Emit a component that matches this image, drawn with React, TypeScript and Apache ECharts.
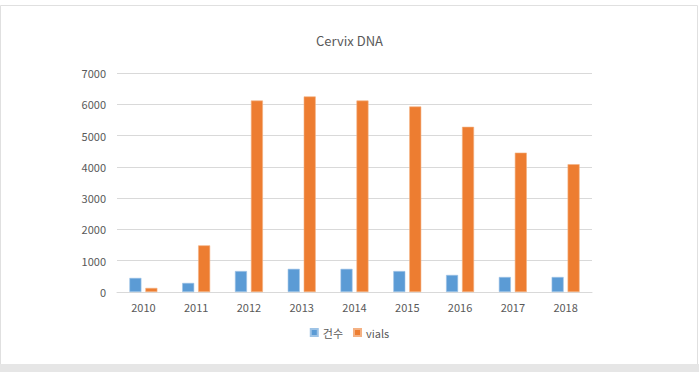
import React, { useEffect, useRef } from "react";
import * as echarts from "echarts";

const years = ["2010", "2011", "2012", "2013", "2014", "2015", "2016", "2017", "2018"];
const countValues = [450, 290, 670, 740, 740, 670, 545, 480, 480];
const vialValues = [130, 1490, 6120, 6250, 6120, 5930, 5280, 4455, 4085];
const seriesNames = ["건수", "vials"];
const titleText = "Cervix DNA";

const FONT = "'Noto Sans CJK KR', 'Noto Sans', sans-serif";

export default function App() {
  const ref = useRef<HTMLDivElement>(null);
  useEffect(() => {
    document.body.style.margin = "0";
    const chart = echarts.init(ref.current!, null, { renderer: "svg" });
    chart.setOption({
      animation: false,
      backgroundColor: "#ffffff",
      title: {
        text: titleText,
        left: "center",
        top: 29,
        textStyle: { fontFamily: FONT, fontSize: 13, fontWeight: "normal", color: "#595959" },
      },
      graphic: [
        {
          type: "rect",
          shape: { x: 0.5, y: 5.5, width: 697, height: 360 },
          style: { fill: "none", stroke: "#e0e0e0", lineWidth: 1 },
          silent: true,
        },
        {
          type: "rect",
          shape: { x: 0, y: 364, width: 699, height: 8 },
          style: { fill: "#e6e6e6" },
          silent: true,
        },
      ],
      legend: {
        data: seriesNames,
        left: "center",
        top: 322,
        itemWidth: 7,
        itemHeight: 7,
        itemGap: 10,
        icon: "rect",
        textStyle: { fontFamily: FONT, fontSize: 11, color: "#595959" },
      },
      grid: { left: 117, right: 107, top: 73, bottom: 80, containLabel: false },
      xAxis: {
        type: "category",
        data: years,
        axisLine: { lineStyle: { color: "#d9d9d9", width: 1 } },
        axisTick: { show: false },
        axisLabel: { fontFamily: FONT, fontSize: 11, color: "#595959", margin: 9 },
      },
      yAxis: {
        type: "value",
        min: 0,
        max: 7000,
        interval: 1000,
        axisLine: { show: false },
        axisTick: { show: false },
        splitLine: { lineStyle: { color: "#d9d9d9", width: 1 } },
        axisLabel: {
          fontFamily: FONT,
          fontSize: 11,
          color: "#595959",
          margin: 11,
          formatter: (v: number) => String(v),
        },
      },
      series: [
        {
          name: seriesNames[0],
          type: "bar",
          data: countValues,
          barWidth: 12,
          barGap: "33%",
          itemStyle: { color: "#5b9bd5", borderColor: "#9dc3e6", borderWidth: 0.6 },
        },
        {
          name: seriesNames[1],
          type: "bar",
          data: vialValues,
          barWidth: 12,
          itemStyle: { color: "#ed7d31", borderColor: "#f4b183", borderWidth: 0.6 },
        },
      ],
    });
    return () => chart.dispose();
  }, []);
  return <div ref={ref} style={{ width: 699, height: 372 }} />;
}
